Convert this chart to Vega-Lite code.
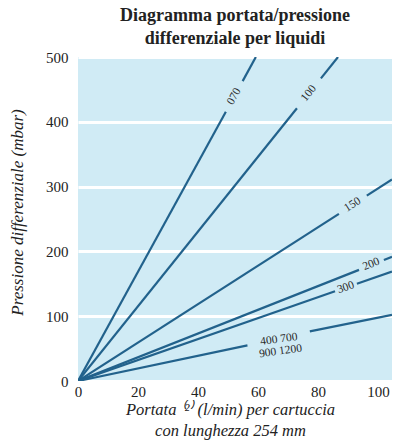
{
  "$schema": "https://vega.github.io/schema/vega-lite/v6.json",
  "autosize": {"type": "none"},
  "width": 314,
  "height": 324,
  "padding": {"left": 78, "top": 57, "right": 1, "bottom": 61},
  "background": "#ffffff",
  "title": {
    "text": ["Diagramma portata/pressione", "differenziale per liquidi"],
    "font": "Liberation Serif",
    "fontSize": 18,
    "fontWeight": "bold",
    "lineHeight": 23,
    "anchor": "middle",
    "frame": "group",
    "offset": 2,
    "color": "#222222"
  },
  "datasets": {
    "lines": [
      {"id": "070a", "x": 0, "y": 0},
      {"id": "070a", "x": 49.3, "y": 415.6},
      {"id": "070b", "x": 54.9, "y": 462.8},
      {"id": "070b", "x": 59.3, "y": 500},
      {"id": "100a", "x": 0, "y": 0},
      {"id": "100a", "x": 73, "y": 421},
      {"id": "100b", "x": 81, "y": 467},
      {"id": "100b", "x": 86.7, "y": 500},
      {"id": "150a", "x": 0, "y": 0},
      {"id": "150a", "x": 87, "y": 258},
      {"id": "150b", "x": 96.3, "y": 286},
      {"id": "150b", "x": 104.7, "y": 311},
      {"id": "200a", "x": 0, "y": 0},
      {"id": "200a", "x": 93.7, "y": 171.5},
      {"id": "200b", "x": 102, "y": 186.7},
      {"id": "200b", "x": 104.7, "y": 191.6},
      {"id": "300a", "x": 0, "y": 0},
      {"id": "300a", "x": 85.7, "y": 138.4},
      {"id": "300b", "x": 93, "y": 150.2},
      {"id": "300b", "x": 104.7, "y": 169},
      {"id": "400a", "x": 0, "y": 0},
      {"id": "400a", "x": 56.5, "y": 55},
      {"id": "400b", "x": 77.3, "y": 76.5},
      {"id": "400b", "x": 104.7, "y": 102}
    ],
    "labels": [
      {"label": "070", "x": 52.1, "y": 439, "angle": -61},
      {"label": "100", "x": 77, "y": 444, "angle": -51},
      {"label": "150", "x": 91.6, "y": 272, "angle": -33},
      {"label": "200", "x": 97.8, "y": 180, "angle": -22},
      {"label": "300", "x": 89.3, "y": 144, "angle": -19},
      {"label": "400  700\n900  1200", "x": 67, "y": 64, "angle": -8}
    ]
  },
  "layer": [
    {
      "data": {"name": "lines"},
      "mark": {"type": "line", "color": "#22628c", "strokeWidth": 2.2, "clip": true},
      "encoding": {
        "x": {
          "field": "x", "type": "quantitative",
          "scale": {"domain": [0, 104.7], "nice": false, "zero": false},
          "axis": {
            "values": [0, 20, 40, 60, 80, 100],
            "grid": false, "domain": false, "ticks": false,
            "labelFont": "Liberation Serif", "labelFontSize": 15, "labelColor": "#222222",
            "labelPadding": 3, "labelFlush": false,
            "title": ["Portata ⁽²⁾ (l/min) per cartuccia", "con lunghezza 254 mm"],
            "titleFont": "Liberation Serif", "titleFontSize": 16.5, "titleFontStyle": "italic",
            "titleFontWeight": "normal", "titleColor": "#222222",
            "titleX": 152, "titleY": 20, "titleBaseline": "top", "titleLineHeight": 21
          }
        },
        "y": {
          "field": "y", "type": "quantitative",
          "scale": {"domain": [0, 500], "nice": false},
          "axis": {
            "values": [0, 100, 200, 300, 400, 500],
            "grid": true, "gridColor": "#ffffff", "gridWidth": 3, "gridOpacity": 1,
            "domain": false, "ticks": false,
            "labelFont": "Liberation Serif", "labelFontSize": 15, "labelColor": "#222222",
            "labelPadding": 10, "labelFlush": false,
            "title": "Pressione differenziale (mbar)",
            "titleFont": "Liberation Serif", "titleFontSize": 17, "titleFontStyle": "italic",
            "titleFontWeight": "normal", "titleColor": "#222222",
            "titleX": -61, "titleY": 155, "titleAngle": -90, "titleAlign": "center", "titleBaseline": "middle"
          }
        },
        "detail": {"field": "id"},
        "order": {"field": "x", "type": "quantitative"}
      }
    },
    {
      "data": {"name": "labels"},
      "mark": {"type": "text", "font": "Liberation Serif", "fontSize": 11.5, "color": "#2a2a2a", "lineBreak": "\n", "lineHeight": 12, "align": "center", "baseline": "middle"},
      "encoding": {
        "x": {"field": "x", "type": "quantitative"},
        "y": {"field": "y", "type": "quantitative"},
        "text": {"field": "label"},
        "angle": {"field": "angle", "type": "quantitative", "scale": null}
      }
    }
  ],
  "config": {
    "view": {"fill": "#d0ebf5", "stroke": null}
  }
}
